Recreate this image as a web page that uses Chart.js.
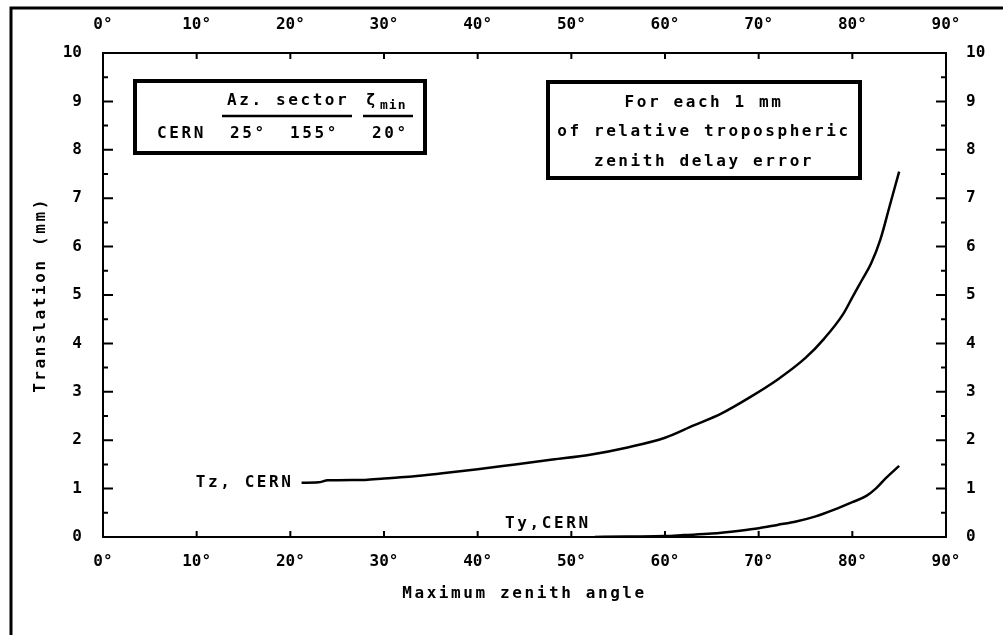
<!DOCTYPE html>
<html lang="en">
<head>
<meta charset="UTF-8">
<title>Translation vs maximum zenith angle</title>
<script src="https://cdn.jsdelivr.net/npm/chart.js"></script>
<style>
    body { margin: 0; background: white; }
    .wrap { width: 1003px; height: 635px; position: relative; }
</style>
</head>
<body>
<div class="wrap"><canvas id="chart" width="1003" height="635"></canvas></div>
<script>
// Tz and Ty translation (mm) per 1 mm of zenith delay error, CERN
const tzAngle = [21.2, 23, 24, 28, 30, 33, 36, 40, 44, 48, 52, 56, 60, 63, 66, 69, 72, 75, 77, 79, 80, 81, 82, 83, 84, 85];
const tzValue = [1.12, 1.13, 1.17, 1.18, 1.21, 1.25, 1.31, 1.40, 1.50, 1.60, 1.70, 1.85, 2.05, 2.30, 2.55, 2.88, 3.25, 3.70, 4.10, 4.60, 4.95, 5.30, 5.65, 6.15, 6.85, 7.55];
const tyAngle = [52.5, 56, 60, 62, 65, 68, 70, 72, 74, 76, 78, 80, 81.5, 82.5, 83.5, 85];
const tyValue = [0.0, 0.01, 0.02, 0.04, 0.07, 0.13, 0.18, 0.25, 0.32, 0.42, 0.56, 0.72, 0.85, 1.0, 1.2, 1.47];

const angleTicks = [0, 10, 20, 30, 40, 50, 60, 70, 80, 90];
const mmTicks = [0, 0.5, 1, 1.5, 2, 2.5, 3, 3.5, 4, 4.5, 5, 5.5, 6, 6.5, 7, 7.5, 8, 8.5, 9, 9.5, 10];

const FONT = '"DejaVu Sans Mono", monospace';
const tickFont = { family: FONT, size: 16, weight: 'bold' };

function toPoints(xs, ys) {
    return xs.map((x, i) => ({ x: x, y: ys[i] }));
}

function angleAxis(position, height, padding) {
    return {
        type: 'linear', position: position, min: 0, max: 90,
        afterBuildTicks: s => { s.ticks = angleTicks.map(v => ({ value: v })); },
        afterFit: s => { s.height = height; },
        ticks: { callback: v => v + '°', font: tickFont, color: '#000', padding: padding, maxRotation: 0, autoSkip: false },
        grid: { display: false },
        border: { display: true, width: 2, color: '#000' }
    };
}

function mmAxis(position, width, padding) {
    return {
        type: 'linear', position: position, min: 0, max: 10,
        afterBuildTicks: s => { s.ticks = mmTicks.map(v => ({ value: v })); },
        afterFit: s => { s.width = width; },
        ticks: { callback: v => Number.isInteger(v) ? String(v) : '', font: tickFont, color: '#000', padding: padding, autoSkip: false },
        grid: { display: false },
        border: { display: true, width: 2, color: '#000' }
    };
}

// short tick marks pointing into the plot, longer on whole millimetres
const innerTicks = {
    id: 'innerTicks',
    afterDraw(chart) {
        const ctx = chart.ctx, a = chart.chartArea;
        ctx.save();
        ctx.strokeStyle = '#000';
        ctx.lineWidth = 2;
        ctx.beginPath();
        ['x', 'x2'].forEach(id => {
            const s = chart.scales[id];
            s.ticks.forEach(t => {
                if (t.value <= 0 || t.value >= 90) return;
                const px = s.getPixelForValue(t.value);
                if (id === 'x') { ctx.moveTo(px, a.bottom); ctx.lineTo(px, a.bottom - 6); }
                else { ctx.moveTo(px, a.top); ctx.lineTo(px, a.top + 6); }
            });
        });
        ['y', 'y2'].forEach(id => {
            const s = chart.scales[id];
            s.ticks.forEach(t => {
                if (t.value <= 0 || t.value >= 10) return;
                const py = s.getPixelForValue(t.value);
                const len = Number.isInteger(t.value) ? 10 : 5;
                if (id === 'y') { ctx.moveTo(a.left, py); ctx.lineTo(a.left + len, py); }
                else { ctx.moveTo(a.right, py); ctx.lineTo(a.right - len, py); }
            });
        });
        ctx.stroke();
        ctx.restore();
    }
};

function text(ctx, str, x, y, align, size) {
    ctx.font = 'bold ' + (size || 16) + 'px ' + FONT;
    ctx.textAlign = align || 'left';
    ctx.textBaseline = 'middle';
    ctx.fillText(str, x, y);
}

// frame, info boxes, axis titles and curve labels
const annotations = {
    id: 'annotations',
    afterDraw(chart) {
        const ctx = chart.ctx, a = chart.chartArea;
        const sx = chart.scales.x, sy = chart.scales.y;
        ctx.save();
        ctx.fillStyle = '#000';
        ctx.strokeStyle = '#000';

        // page frame
        ctx.lineWidth = 3;
        ctx.beginPath();
        ctx.moveTo(11, 635); ctx.lineTo(11, 8); ctx.lineTo(1003, 8);
        ctx.stroke();

        ctx.letterSpacing = '2.6px';

        // station table
        ctx.lineWidth = 4;
        ctx.strokeRect(135, 81, 290, 72);
        text(ctx, 'Az. sector', 227, 101);
        text(ctx, 'ζ', 366, 101);
        ctx.letterSpacing = '1px';
        text(ctx, 'min', 380, 106, 'left', 13);
        ctx.letterSpacing = '2.6px';
        ctx.lineWidth = 2.5;
        ctx.beginPath();
        ctx.moveTo(222, 116); ctx.lineTo(352, 116);
        ctx.moveTo(363, 116); ctx.lineTo(413, 116);
        ctx.stroke();
        text(ctx, 'CERN', 157, 134);
        text(ctx, '25°', 230, 134);
        text(ctx, '155°', 290, 134);
        text(ctx, '20°', 372, 134);

        // note box
        ctx.lineWidth = 4;
        ctx.strokeRect(548, 82, 312, 96);
        text(ctx, 'For each 1 mm', 704, 103, 'center');
        text(ctx, 'of relative tropospheric', 704, 132, 'center');
        text(ctx, 'zenith delay error', 704, 162, 'center');

        // axis titles
        text(ctx, 'Maximum zenith angle', (a.left + a.right) / 2, 594, 'center');
        ctx.save();
        ctx.translate(41, (a.top + a.bottom) / 2);
        ctx.rotate(-Math.PI / 2);
        text(ctx, 'Translation (mm)', 0, 0, 'center');
        ctx.restore();

        // curve labels
        text(ctx, 'Tz, CERN', sx.getPixelForValue(tzAngle[0]) - 8, sy.getPixelForValue(tzValue[0]), 'right');
        text(ctx, 'Ty,CERN', sx.getPixelForValue(tyAngle[0]) - 4, a.bottom - 13, 'right');

        ctx.restore();
    }
};

new Chart(document.getElementById('chart').getContext('2d'), {
    type: 'line',
    data: {
        datasets: [
            { label: 'Tz, CERN', data: toPoints(tzAngle, tzValue), borderColor: '#000', borderWidth: 2.5, cubicInterpolationMode: 'monotone', pointRadius: 0, fill: false, xAxisID: 'x', yAxisID: 'y' },
            { label: 'Ty, CERN', data: toPoints(tyAngle, tyValue), borderColor: '#000', borderWidth: 2.5, cubicInterpolationMode: 'monotone', pointRadius: 0, fill: false, xAxisID: 'x', yAxisID: 'y' }
        ]
    },
    options: {
        responsive: false,
        animation: false,
        layout: { padding: 0 },
        plugins: { legend: { display: false }, tooltip: { enabled: false } },
        scales: {
            x: angleAxis('bottom', 98, 7),
            x2: angleAxis('top', 53, 11),
            y: mmAxis('left', 103, 13),
            y2: mmAxis('right', 57, 12)
        }
    },
    plugins: [innerTicks, annotations]
});
</script>
</body>
</html>
